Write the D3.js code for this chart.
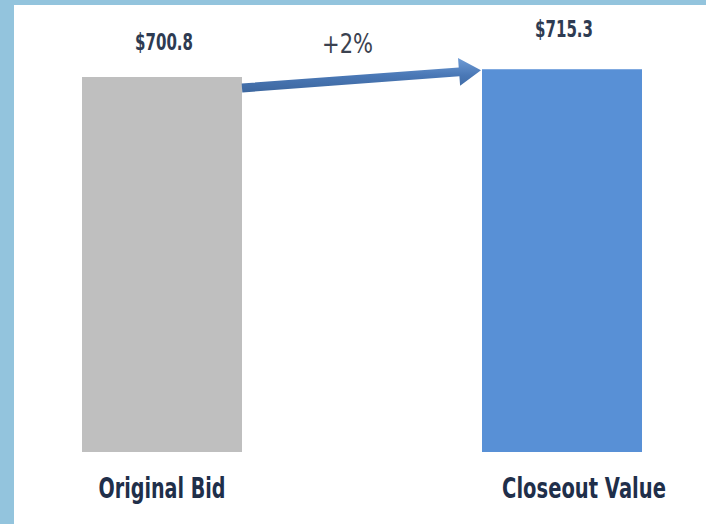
<!DOCTYPE html>
<html>
<head>
<meta charset="utf-8">
<script src="https://cdn.jsdelivr.net/npm/d3@7"></script>
<style>
  html, body { margin: 0; padding: 0; background: #93c4dd; }
  svg { display: block; }
</style>
</head>
<body>
<svg id="chart" width="706" height="524"></svg>
<script>
"use strict";

const categories = ["Original Bid", "Closeout Value"];
const values = [700.8, 715.3];
const valueLabels = ["$700.8", "$715.3"];
const barColors = ["#bfbfbf", "#5890d6"];

// the source uses a very narrow font; squeeze DejaVu to the same widths
const valueLabelWidth = 58;
const catLabelWidths = [127, 164];
const fontFamily = "'DejaVu Sans', sans-serif";

let width = 706,
  height = 524;
let svg = d3.select("#chart");

// draws centred text squeezed horizontally to a given width
function narrowText(parent, cx, cy, str, targetW, attrs) {
  let g = parent.append("g");
  let t = g.append("text")
    .attr("x", 0).attr("y", 0)
    .attr("text-anchor", "middle")
    .attr("font-family", fontFamily)
    .text(str);
  Object.keys(attrs).forEach((k) => t.attr(k, attrs[k]));
  let w = t.node().getComputedTextLength();
  g.attr("transform", "translate(" + cx + "," + cy + ") scale(" + targetW / w + ",1)");
  return g;
}

// white card sitting inside the light blue frame
svg.append("rect")
  .attr("x", 14).attr("y", 5)
  .attr("width", width - 14).attr("height", height - 5)
  .attr("fill", "#ffffff");

let x = d3.scaleBand()
  .domain(categories)
  .range([2, 722])
  .paddingInner(0.6)
  .paddingOuter(0.2);

let y = d3.scaleLinear()
  .domain([0, 700.8 * 452 / 375])
  .range([452, 0]);

let rows = categories.map((c, i) => ({ cat: c, value: values[i], label: valueLabels[i], color: barColors[i] }));

svg.append("g").selectAll("rect")
  .data(rows)
  .enter()
  .append("rect")
  .attr("x", (d) => x(d.cat))
  .attr("y", (d) => y(d.value))
  .attr("width", x.bandwidth())
  .attr("height", (d) => y(0) - y(d.value))
  .attr("fill", (d) => d.color);

let labels = svg.append("g");
rows.forEach((d, i) => {
  // value label above bar
  narrowText(labels, x(d.cat) + x.bandwidth() / 2 + 2, y(d.value) - (i ? 32 : 27),
    d.label, valueLabelWidth,
    { "font-weight": "bold", "font-size": 23, fill: "#2e3b52" });
  // category label under bar
  narrowText(labels, x(d.cat) + x.bandwidth() / 2 + (i ? 22 : 0), 498,
    d.cat, catLabelWidths[i],
    { "font-weight": "bold", "font-size": 29, fill: "#1f2f4a" });
});

// growth arrow between bars
let defs = svg.append("defs");
let grad = defs.append("linearGradient")
  .attr("id", "arrowGrad")
  .attr("x1", 0).attr("y1", 0).attr("x2", 0).attr("y2", 1);
grad.append("stop").attr("offset", "0%").attr("stop-color", "#6f9cd6");
grad.append("stop").attr("offset", "50%").attr("stop-color", "#4a78b6");
grad.append("stop").attr("offset", "100%").attr("stop-color", "#3d679f");

let x0 = x(categories[0]) + x.bandwidth(),
  y0 = y(values[0]) + 11,
  x1 = x(categories[1]) - 1,
  y1 = y(values[1]) + 1;
let dx = x1 - x0,
  dy = y1 - y0,
  len = Math.sqrt(dx * dx + dy * dy);
let ux = dx / len,
  uy = dy / len,
  nx = -uy,
  ny = ux;
let shaft = 4.5,
  headLen = 22,
  headHalf = 14;
let bx = x1 - ux * headLen,
  by = y1 - uy * headLen;
let pts = [
  [x0 + nx * shaft, y0 + ny * shaft],
  [bx + nx * shaft, by + ny * shaft],
  [bx + nx * headHalf, by + ny * headHalf],
  [x1, y1],
  [bx - nx * headHalf, by - ny * headHalf],
  [bx - nx * shaft, by - ny * shaft],
  [x0 - nx * shaft, y0 - ny * shaft],
];
svg.append("path")
  .attr("d", d3.line()(pts) + "Z")
  .attr("fill", "url(#arrowGrad)");

let pct = Math.round((values[1] / values[0] - 1) * 100);
narrowText(svg, (x0 + x1) / 2 - 14, 53, "+" + pct + "%", 51,
  { "font-size": 27, fill: "#3b4250" });
</script>
</body>
</html>
